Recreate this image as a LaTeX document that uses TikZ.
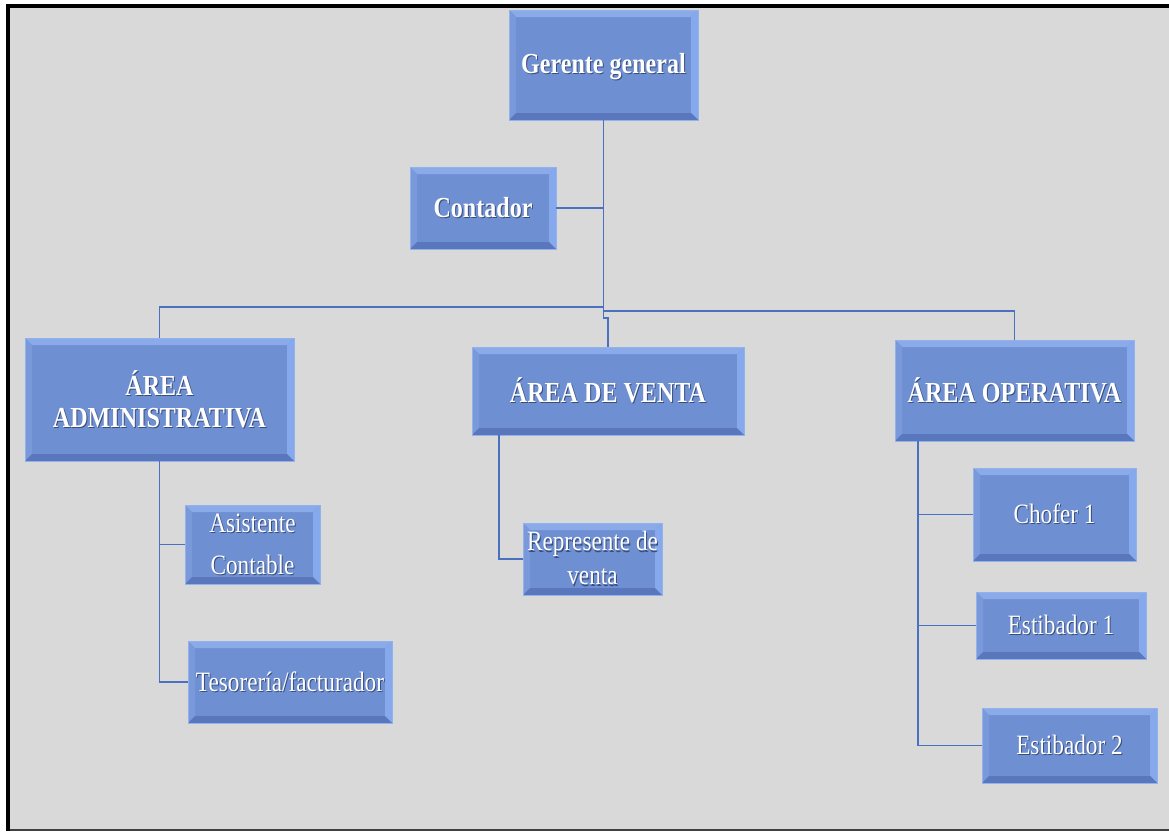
\documentclass[tikz,border=0pt]{standalone}
\usepackage{fontspec}
\setmainfont{Liberation Serif}[FakeStretch=0.83]
\definecolor{bgc}{HTML}{D9D9D9}
\definecolor{facec}{HTML}{6F8FD3}
\definecolor{topc}{HTML}{8AAAEA}
\definecolor{leftc}{HTML}{7A99DB}
\definecolor{rightc}{HTML}{86A8EC}
\definecolor{botc}{HTML}{5A77BD}
\definecolor{bordc}{HTML}{92B2EC}
\definecolor{linec}{HTML}{4A70C0}
\definecolor{shadc}{HTML}{3A4E7A}
\newcommand{\sh}[1]{\leavevmode\rlap{\kern1pt\raisebox{-1.2pt}{\textcolor{shadc}{#1}}}#1}
\newlength{\bv}\setlength{\bv}{7pt}
\tikzset{
  bev/.style={rectangle, fill=facec, draw=bordc, line width=0.8pt, text=white,
    align=center, inner sep=2pt,
    path picture={
      \fill[topc] (path picture bounding box.north west) -- (path picture bounding box.north east)
        -- ([xshift=-\bv,yshift=-\bv]path picture bounding box.north east)
        -- ([xshift=\bv,yshift=-\bv]path picture bounding box.north west) -- cycle;
      \fill[leftc] (path picture bounding box.north west) -- (path picture bounding box.south west)
        -- ([xshift=\bv,yshift=\bv]path picture bounding box.south west)
        -- ([xshift=\bv,yshift=-\bv]path picture bounding box.north west) -- cycle;
      \fill[rightc] (path picture bounding box.north east) -- (path picture bounding box.south east)
        -- ([xshift=-\bv,yshift=\bv]path picture bounding box.south east)
        -- ([xshift=-\bv,yshift=-\bv]path picture bounding box.north east) -- cycle;
      \fill[botc] (path picture bounding box.south west) -- (path picture bounding box.south east)
        -- ([xshift=-\bv,yshift=\bv]path picture bounding box.south east)
        -- ([xshift=\bv,yshift=\bv]path picture bounding box.south west) -- cycle;
    }},
  bigbox/.style={bev, font=\fontsize{29}{32}\selectfont\bfseries},
  smallbox/.style={bev, font=\fontsize{28}{34}\selectfont},
  conn/.style={draw=linec, line width=1.8pt}
}
\begin{document}
\begin{tikzpicture}[x=1pt,y=-1pt]
\useasboundingbox (0,0) rectangle (1169,831);
\fill[white] (0,0) rectangle (1169,831);
\fill[bgc] (10,8) rectangle (1169,829);
\fill[black] (6,4) rectangle (1169,8);
\fill[black] (6,4) rectangle (10,831);
\fill[black!75] (10,829) rectangle (1169,831);

\coordinate (trunkA) at (603.5,307);
\coordinate (trunkB) at (603.5,311);
\coordinate (jogA) at (603.5,318);
\coordinate (jogB) at (608,318);
\coordinate (contJ) at (603.5,208);
\coordinate (vb) at (499,435);
\coordinate (ob) at (918,441);

\node[bigbox, minimum width=189pt, minimum height=110pt, text depth=4pt] (gg) at (603.5,65) {\sh{Gerente general}};
\node[bigbox, minimum width=146pt, minimum height=82pt] (cont) at (483,208) {\sh{Contador}};
\node[bigbox, minimum width=269pt, minimum height=123pt] (adm) at (159.5,399.5) {\sh{ÁREA}\\\sh{ADMINISTRATIVA}};
\node[bigbox, minimum width=272pt, minimum height=88pt] (ven) at (608,391) {\sh{ÁREA DE VENTA}};
\node[bigbox, minimum width=239pt, minimum height=101pt] (ope) at (1014.5,390.5) {\sh{ÁREA OPERATIVA}};
\node[smallbox, minimum width=135pt, minimum height=79pt] (asis) at (252.5,544.5) {\sh{Asistente}\\[8pt]\sh{Contable}};
\node[smallbox, minimum width=204pt, minimum height=82pt] (teso) at (290,682) {\sh{Tesorería/facturador}};
\node[smallbox, minimum width=139pt, minimum height=72pt] (rep) at (592.5,559) {\sh{Represente de}\\\sh{venta}};
\node[smallbox, minimum width=163pt, minimum height=93pt] (cho) at (1054.5,514.5) {\sh{Chofer 1}};
\node[smallbox, minimum width=170pt, minimum height=67pt] (est1) at (1061,625.5) {\sh{Estibador 1}};
\node[smallbox, minimum width=175pt, minimum height=75pt] (est2) at (1069.5,745.5) {\sh{Estibador 2}};

\path[conn] (gg.south) -- (trunkB);
\path[conn] (cont.east) -- (contJ);
\path[conn] (trunkA) -| (adm.north);
\path[conn] (trunkB) -| (ope.north);
\path[conn] (trunkB) -- (jogA) -- (jogB) -- (ven.north);
\path[conn] (adm.south) |- (asis.west);
\path[conn] (adm.south) |- (teso.west);
\path[conn] (vb) |- (rep.west);
\path[conn] (ob) |- (cho.west);
\path[conn] (ob) |- (est1.west);
\path[conn] (ob) |- (est2.west);
\end{tikzpicture}
\end{document}
